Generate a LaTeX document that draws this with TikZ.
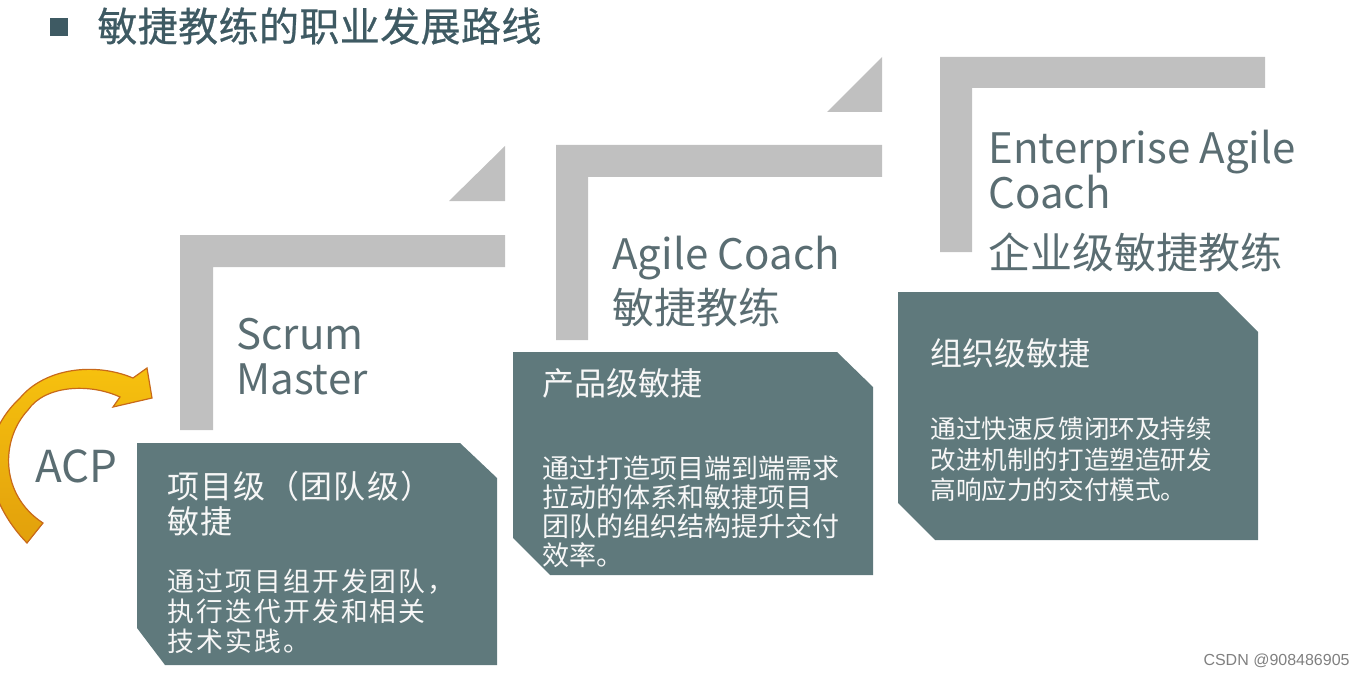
\documentclass[tikz,border=0pt]{standalone}
\usepackage{fontspec}
\setmainfont{Noto Sans CJK SC}
\newfontfamily\wmfont{Liberation Sans}
\usepackage{tikz}
\usepackage{xcolor}
\definecolor{barGray}{HTML}{C0C0C0}
\definecolor{boxTeal}{HTML}{5F797C}
\definecolor{labelInk}{HTML}{5A6D72}
\definecolor{titleInk}{HTML}{3E5A63}
\definecolor{arrowTop}{HTML}{F7C20E}
\definecolor{arrowBottom}{HTML}{E2A00C}
\definecolor{arrowEdge}{HTML}{C8691A}
\tikzset{
  role/.style={anchor=north west,inner sep=0,align=left,text=labelInk,font=\fontsize{21}{22.5}\selectfont},
  boxhead/.style={anchor=north west,inner sep=0,align=left,text=white!94!gray,font=\fontsize{16}{17.5}\selectfont},
  boxbody/.style={anchor=north west,inner sep=0,align=left,text=white!94!gray,font=\fontsize{13.5}{14.5}\selectfont}
}
\begin{document}
\begin{tikzpicture}[x=0.5pt,y=-0.5pt]
  \useasboundingbox (0,0) rectangle (1366,674);
  \clip (0,0) rectangle (1366,674);
  \fill[titleInk] (50,18) rectangle (68,36);
  \node[anchor=west,inner sep=0,text=titleInk,font=\fontsize{20}{24}\selectfont\addfontfeature{LetterSpace=1,FakeBold=0.6}] (title) at (97,26) {敏捷教练的职业发展路线};
  \fill[barGray] (180,430) -- (180,235) -- (505,235) -- (505,267) -- (213,267) -- (213,430) -- cycle;
  \fill[barGray] (449,201) -- (505,146) -- (505,201) -- cycle;
  \fill[barGray] (556,340) -- (556,145) -- (882,145) -- (882,177) -- (588,177) -- (588,340) -- cycle;
  \fill[barGray] (827,112) -- (882,57) -- (882,112) -- cycle;
  \fill[barGray] (940,252) -- (940,57) -- (1265,57) -- (1265,88) -- (972,88) -- (972,252) -- cycle;
  \fill[boxTeal] (137,443) -- (460,443) -- (497,478) -- (497,665) -- (165,665) -- (137,628) -- cycle;
  \fill[boxTeal] (513,352) -- (837,352) -- (873,387) -- (873,575) -- (550,575) -- (513,538) -- cycle;
  \fill[boxTeal] (898,292) -- (1218,292) -- (1258,332) -- (1258,540) -- (935,540) -- (898,503) -- cycle;
  \node[role] (sm) at (236,318) {Scrum\\Master};
  \node[role] (ac) at (612,236) {Agile Coach\\[3pt]敏捷教练};
  \node[role] (eac) at (988,130) {Enterprise Agile\\Coach\\[7.5pt]企业级敏捷教练};
  \node[boxhead,font=\fontsize{16}{17.5}\selectfont\addfontfeature{LetterSpace=4}] (h1) at (167,471) {项目级（团队级）\\敏捷};
  \node[boxbody,font=\fontsize{13.4}{15}\selectfont\addfontfeature{LetterSpace=8}] (b1) at (167,568) {通过项目组开发团队，\\执行迭代开发和相关\\技术实践。};
  \node[boxhead] (h2) at (542,368) {产品级敏捷};
  \node[boxbody] (b2) at (542,455) {通过打造项目端到端需求\\拉动的体系和敏捷项目\\团队的组织结构提升交付\\效率。};
  \node[boxhead] (h3) at (930,338) {组织级敏捷};
  \node[boxbody,font=\fontsize{12.8}{15.2}\selectfont] (b3) at (930,417) {通过快速反馈闭环及持续\\改进机制的打造塑造研发\\高响应力的交付模式。};
  \draw[top color=arrowTop,bottom color=arrowBottom,draw=arrowEdge,line width=0.6pt]
    (27,543) .. controls (-10,505) and (-30,445) .. (20,398)
    .. controls (45,368) and (95,362) .. (133,378) -- (147,368) -- (152,398) -- (113,407) -- (120,397)
    .. controls (90,383) and (45,385) .. (28,410)
    .. controls (0,440) and (0,495) .. (43,523) -- cycle;
  \node[anchor=base west,inner sep=0,text=labelInk,font=\fontsize{22}{26}\selectfont] (acp) at (35,482) {ACP};
  \node[anchor=base east,inner sep=0,text=gray,font=\wmfont\fontsize{8}{10}\selectfont] (wm) at (1350,665) {CSDN @908486905};
\end{tikzpicture}
\end{document}
